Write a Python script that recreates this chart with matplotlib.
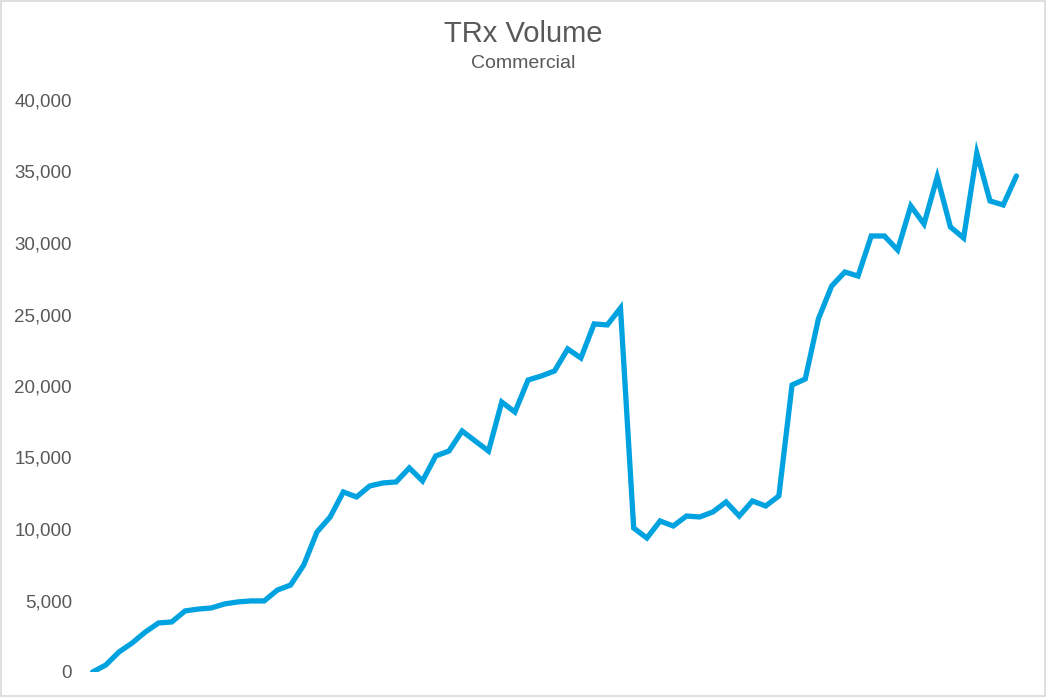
import matplotlib
matplotlib.use("Agg")
import matplotlib.pyplot as plt
from matplotlib.patches import Rectangle
from matplotlib.ticker import FuncFormatter

plt.rcParams['font.family'] = ['Liberation Sans', 'DejaVu Sans']

# TRx volume, commercial (monthly)
trx = [0, 490, 1400, 2030, 2800, 3430, 3500, 4270, 4400, 4480,
       4760, 4900, 4970, 4970, 5730, 6080, 7480, 9790, 10840, 12590,
       12240, 13010, 13220, 13290, 14270, 13360, 15110, 15450, 16850, 16150,
       15450, 18880, 18180, 20420, 20700, 21050, 22590, 21960, 24340, 24270,
       25450, 10070, 9370, 10560, 10210, 10910, 10840, 11190, 11890, 10910,
       11960, 11610, 12310, 20070, 20490, 24700, 26990, 27970, 27690, 30490,
       30490, 29510, 32590, 31330, 34620, 31120, 30350, 36290, 32940, 32660,
       34690]
periods = list(range(len(trx)))
yticks = [0, 5000, 10000, 15000, 20000, 25000, 30000, 35000, 40000]

fig = plt.figure(figsize=(10.47, 6.97), dpi=100)
ax = fig.add_axes([86 / 1047, 25 / 697, 937 / 1047, 572 / 697])

ax.plot(periods, trx, color='#00A2DF', lw=3.8, solid_joinstyle='miter',
        solid_capstyle='round')

ax.set_xlim(-0.5, len(trx) - 0.5)
ax.set_ylim(0, 40000)
ax.set_yticks(yticks)
ax.yaxis.set_major_formatter(FuncFormatter(lambda v, p: f'{int(v):,}'))
ax.set_xticks([])
ax.tick_params(axis='y', length=0, pad=10, labelsize=13.5, labelcolor='#595959')
for s in ax.spines.values():
    s.set_visible(False)

fig.text(0.5, 1 - 34 / 697, 'TRx Volume', ha='center', va='center',
         fontsize=21, color='#595959')
fig.text(0.5, 1 - 63 / 697, 'Commercial', ha='center', va='center',
         fontsize=14, color='#595959')

fig.patches.append(Rectangle((0.001, 0.001), 0.997, 0.997, transform=fig.transFigure,
                             fill=False, edgecolor='#d9d9d9', lw=1.2))

fig.savefig('out.png', dpi=100)
